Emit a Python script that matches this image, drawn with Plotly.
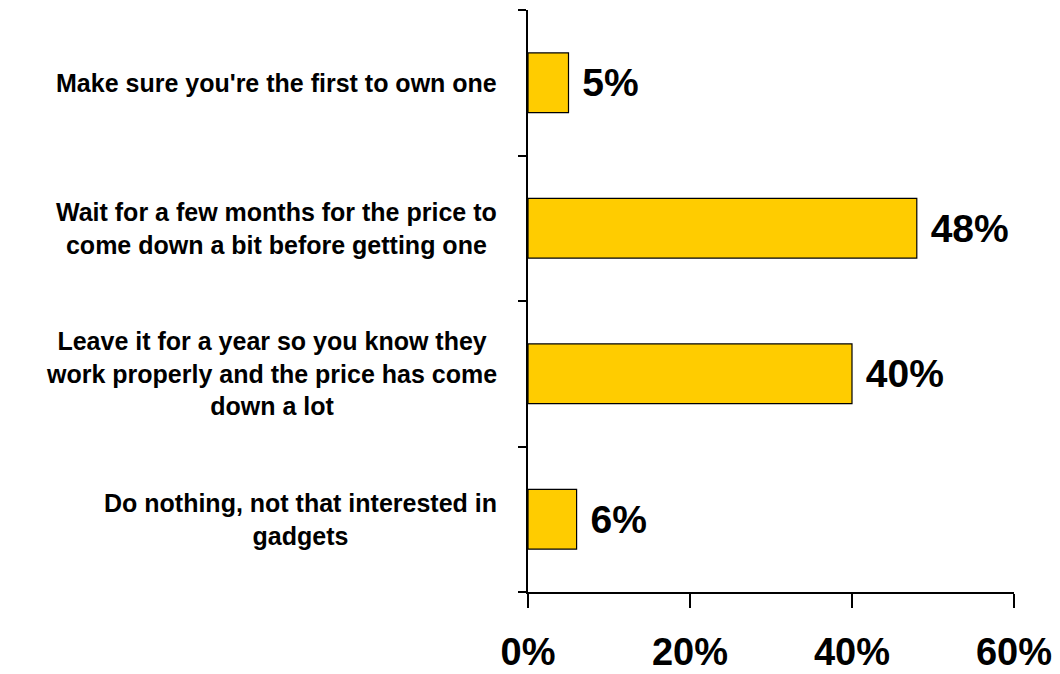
import plotly.graph_objects as go

categories = [
    "Make sure you're the first to own one",
    "Wait for a few months for the price to<br>come down a bit before getting one",
    "Leave it for a year so you know they<br>work properly and the price has come<br>down a lot",
    "Do nothing, not that interested in<br>gadgets",
]
values = [5, 48, 40, 6]
x_ticks = [0, 20, 40, 60]
x_tick_labels = ["0%", "20%", "40%", "60%"]

FONT = "Liberation Sans, Arial, sans-serif"

fig = go.Figure()
fig.add_trace(go.Bar(
    x=values,
    y=list(range(len(categories))),
    orientation="h",
    marker=dict(color="#FFCC00", line=dict(color="black", width=1.2)),
    width=0.41,
    text=[f"\u00a0{v}%" for v in values],
    textposition="outside",
    cliponaxis=False,
    textfont=dict(family=FONT, size=39, color="black", weight="bold"),
    hoverinfo="skip",
))

for i, c in enumerate(categories):
    fig.add_annotation(
        x=0, xref="paper", xanchor="right", xshift=-29,
        y=i, yref="y", yanchor="middle",
        text=c, showarrow=False, align="center",
        font=dict(family=FONT, size=25, color="black", weight="bold"),
    )

fig.update_layout(
    width=1052, height=666,
    margin=dict(l=520, r=46, t=2, b=82),
    paper_bgcolor="white", plot_bgcolor="white",
    showlegend=False,
    font=dict(family=FONT, color="black"),
)
fig.update_xaxes(
    range=[0, 60], tickvals=x_ticks, ticktext=x_tick_labels,
    showline=True, linecolor="black", linewidth=1.5,
    ticks="outside", ticklen=14, tickwidth=1.5, tickcolor="black",
    showgrid=False, zeroline=False, automargin=False,
    ticklabeloverflow="allow",
    ticklabelstandoff=12,
    tickfont=dict(family=FONT, size=38, color="black", weight="bold"),
)
fig.update_yaxes(
    range=[3.5, -0.5],
    tickvals=[-0.5, 0.5, 1.5, 2.5, 3.5], showticklabels=False,
    showline=True, linecolor="black", linewidth=1.5,
    ticks="outside", ticklen=8, tickwidth=1.5, tickcolor="black",
    showgrid=False, zeroline=False, automargin=False,
)

fig.write_html("out.html")
